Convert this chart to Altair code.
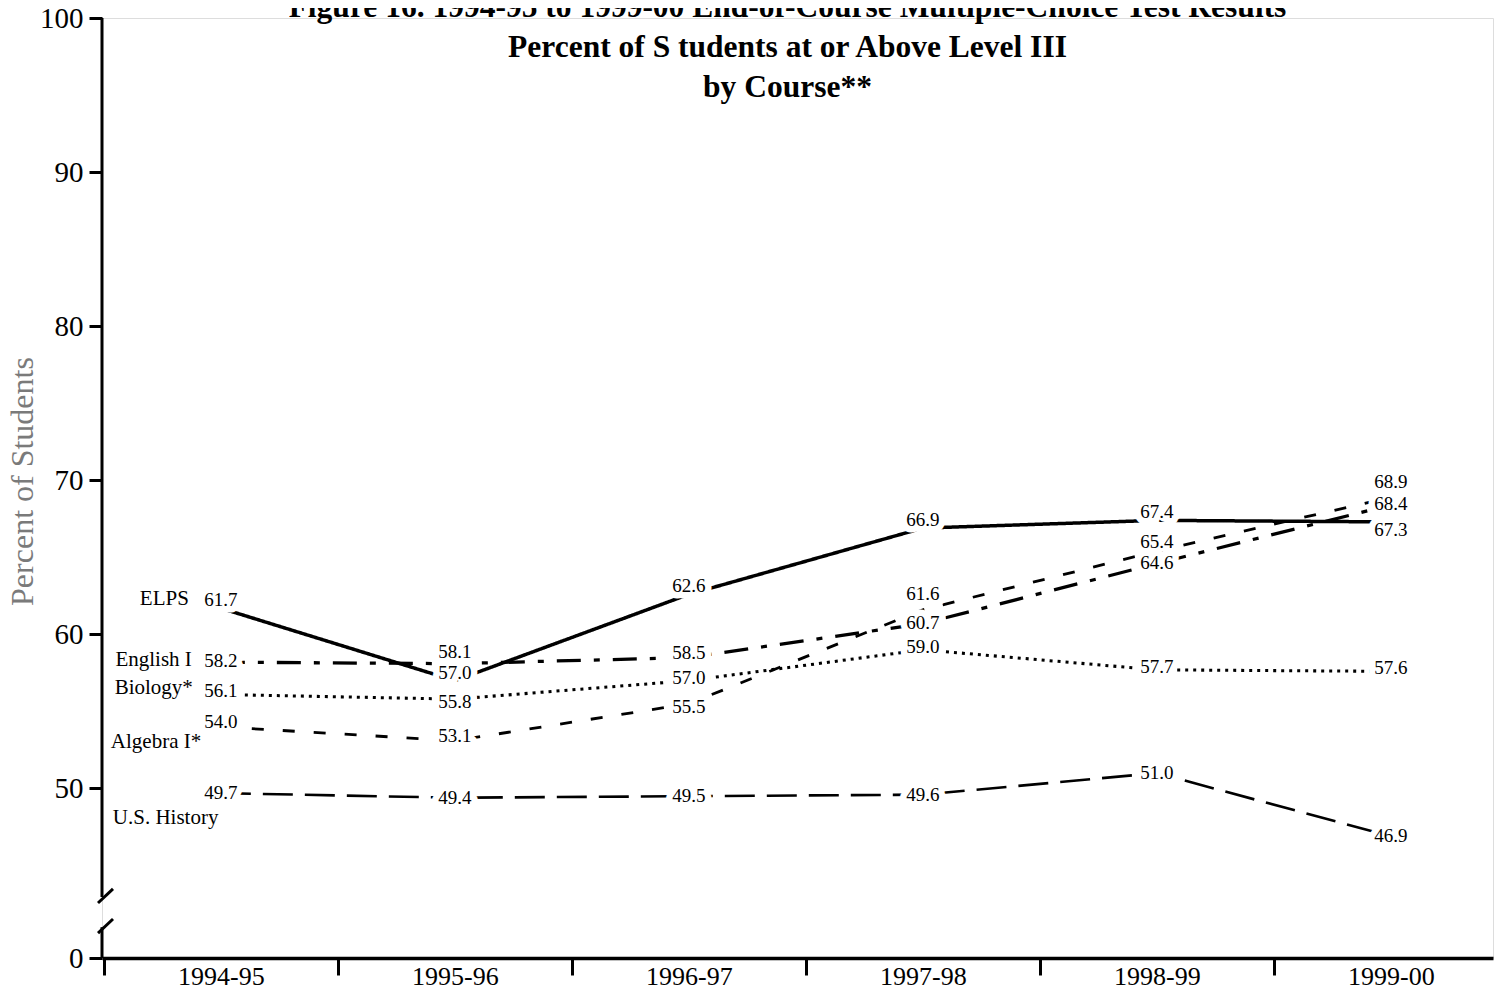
import altair as alt
import pandas as pd

# ---------------- data ----------------
YEARS = ["1994-95", "1995-96", "1996-97", "1997-98", "1998-99", "1999-00"]
SERIES = ["ELPS", "English I", "Biology*", "Algebra I*", "U.S. History"]
ELPS = [61.7, 57.0, 62.6, 66.9, 67.4, 67.3]
ENGLISH_I = [58.2, 58.1, 58.5, 60.7, 64.6, 68.4]
BIOLOGY = [56.1, 55.8, 57.0, 59.0, 57.7, 57.6]
ALGEBRA_I = [54.0, 53.1, 55.5, 61.6, 65.4, 68.9]
US_HISTORY = [49.7, 49.4, 49.5, 49.6, 51.0, 46.9]

Y_BREAK_BOTTOM = 39  # position of the "0" label below the axis break
Y_TICK_VALUES = [Y_BREAK_BOTTOM, 50, 60, 70, 80, 90, 100]
Y_TICK_LABELS = ["0", "50", "60", "70", "80", "90", "100"]

TITLE_LINES = [
    "Figure 16.  1994-95 to 1999-00 End-of-Course Multiple-Choice Test Results",
    "Percent of S tudents at or Above Level III",
    "by Course**",
]
Y_TITLE = "Percent of Students"

# ---------------- styles ----------------
FONT = "Liberation Serif"
DASHES = [[1, 0], [24, 13, 6, 13], [3, 5], [12, 19], [30, 12]]
WIDTHS = [3.5, 2.6, 3, 2.6, 2.6]

# default label nudge per series (pixels) and exceptions
SERIES_DY = {"ELPS": -8, "English I": -1, "Biology*": -3, "Algebra I*": -5, "U.S. History": 0}
POINT_DY = {
    ("ELPS", "1999-00"): 8,
    ("English I", "1995-96"): -12,
    ("English I", "1996-97"): -5,
    ("Biology*", "1995-96"): 3,
    ("Algebra I*", "1996-97"): 3,
    ("Algebra I*", "1997-98"): -16,
    ("Algebra I*", "1999-00"): -15,
    ("Algebra I*", "1998-99"): -9,
}
# series-name label placement relative to the first point
NAME_STYLE = {
    "ELPS": dict(align="right", dx=-32, dy=-9),
    "English I": dict(align="right", dx=-29, dy=-2),
    "Biology*": dict(align="right", dx=-28, dy=-6),
    "Algebra I*": dict(align="left", dx=-110, dy=15),
    "U.S. History": dict(align="left", dx=-108, dy=25),
}

# axis break layout (in data units of the broken scale)
AXIS_SEGMENTS = [(Y_BREAK_BOTTOM, 41.0), (42.96, 100)]
BREAK_MARKS = [(42.57, 43.48), (40.62, 41.53)]

# ---------------- tables ----------------
values = [ELPS, ENGLISH_I, BIOLOGY, ALGEBRA_I, US_HISTORY]
rows = []
for s, vals in zip(SERIES, values):
    for i, (yr, v) in enumerate(zip(YEARS, vals)):
        d = POINT_DY.get((s, yr), SERIES_DY[s])
        rows.append({"series": s, "year": yr, "value": v, "order": i, "dy": d})
df = pd.DataFrame(rows)

axis_df = pd.DataFrame([{"value": a, "value2": b} for a, b in AXIS_SEGMENTS])
break_df = pd.DataFrame([{"value": a, "value2": b} for a, b in BREAK_MARKS])

expr = "datum.label"
for v, lab in reversed(list(zip(Y_TICK_VALUES, Y_TICK_LABELS))):
    expr = f"datum.value == {v} ? '{lab}' : ({expr})"

X_SCALE = alt.Scale(type="point", domain=YEARS, padding=0.472, align=0.538)
Y_SCALE = alt.Scale(domain=[Y_BREAK_BOTTOM, 100], nice=False, zero=False)

X_AXIS = alt.Axis(
    title=None, labelAngle=0, grid=False,
    domainColor="black", domainWidth=3.5,
    tickColor="black", tickWidth=3, tickSize=17, tickOffset=-117, labelOffset=117,
    labelFont=FONT, labelFontSize=26, labelColor="black", labelPadding=-12,
)
Y_AXIS = alt.Axis(
    values=Y_TICK_VALUES, labelExpr=expr, domain=False, grid=False,
    tickColor="black", tickWidth=3, tickSize=13,
    labelFont=FONT, labelFontSize=29, labelColor="black", labelPadding=6,
    title=Y_TITLE, titleFont=FONT, titleFontSize=32, titleFontWeight="normal",
    titleColor="#7a7a7a", titleX=-80, titleY=463, titleAngle=-90,
    titleAlign="center", titleBaseline="middle",
)

x_enc = alt.X("year:O", scale=X_SCALE, axis=X_AXIS, sort=YEARS)
y_enc = alt.Y("value:Q", scale=Y_SCALE, axis=Y_AXIS)

base = alt.Chart(df)

lines = base.mark_line(color="black", strokeCap="butt").encode(
    x=x_enc, y=y_enc, detail="series:N", order="order:Q",
    strokeDash=alt.StrokeDash("series:N", scale=alt.Scale(domain=SERIES, range=DASHES), legend=None),
    strokeWidth=alt.StrokeWidth("series:N", scale=alt.Scale(domain=SERIES, range=WIDTHS), legend=None),
)

axis_line = alt.Chart(axis_df).mark_rule(color="black", strokeWidth=3).encode(
    x=alt.value(0), y=y_enc, y2="value2:Q"
)
break_marks = alt.Chart(break_df).mark_rule(color="black", strokeWidth=3).encode(
    x=alt.value(-4), x2=alt.value(11), y=y_enc, y2="value2:Q"
)

label_layers = []
for d in sorted(df["dy"].unique()):
    sub = base.transform_filter(alt.datum.dy == float(d))
    halo = sub.mark_text(font=FONT, fontSize=19, dy=float(d), stroke="white",
                         strokeWidth=13, strokeJoin="round", fill="white",
                         baseline="middle").encode(
        x=x_enc, y=y_enc, text=alt.Text("value:Q", format=".1f"))
    label_layers.append(halo)
for d in sorted(df["dy"].unique()):
    sub = base.transform_filter(alt.datum.dy == float(d))
    txt = sub.mark_text(font=FONT, fontSize=19, dy=float(d), color="black",
                        baseline="middle").encode(
        x=x_enc, y=y_enc, text=alt.Text("value:Q", format=".1f"))
    label_layers.append(txt)

first = df[df["order"] == 0]
name_layers = []
for s in SERIES:
    st = NAME_STYLE[s]
    name_layers.append(
        alt.Chart(first[first["series"] == s]).mark_text(
            font=FONT, fontSize=21, color="black", baseline="middle", **st
        ).encode(x=x_enc, y=y_enc, text="series:N")
    )

chart = alt.layer(lines, axis_line, break_marks, *label_layers, *name_layers).properties(
    width=1391, height=940,
    title=alt.TitleParams(
        text=TITLE_LINES, font=FONT, fontSize=31.5, fontWeight="bold", color="black",
        anchor="middle", lineHeight=40, dx=-10, dy=135, baseline="bottom",
    ),
    autosize=alt.AutoSizeParams(type="none"),
    padding={"left": 94, "top": 10, "right": 5, "bottom": 34},
).configure_view(stroke=None).configure(background="white")

chart.save("out.html", embed_options={"renderer": "svg", "actions": False})
